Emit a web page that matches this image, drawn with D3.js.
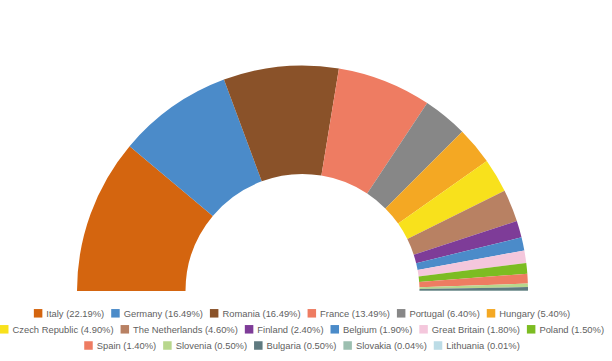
<!DOCTYPE html>
<html><head><meta charset="utf-8">
<script src="https://cdn.jsdelivr.net/npm/d3@7"></script>
<style>html,body{margin:0;padding:0;background:#fff;}svg{display:block;}</style>
</head><body>
<svg id="c" width="612" height="361"></svg>
<script>
const categories = ["Italy","Germany","Romania","France","Portugal","Hungary","Czech Republic","The Netherlands","Finland","Belgium","Great Britain","Poland","Spain","Slovenia","Bulgaria","Slovakia","Lithuania"];
const values = [22.19,16.49,16.49,13.49,6.40,5.40,4.90,4.60,2.40,1.90,1.80,1.50,1.40,0.50,0.50,0.04,0.01];
const labels = ["22.19%","16.49%","16.49%","13.49%","6.40%","5.40%","4.90%","4.60%","2.40%","1.90%","1.80%","1.50%","1.40%","0.50%","0.50%","0.04%","0.01%"];
const colors = ["#d4650f","#4b8bc9","#8a5229","#ee7c62","#878787","#f4a823","#f8e11c","#b88163","#7e3c98","#4b8bc9","#f4c7dc","#7cbc22","#ee7c62","#b8d78d","#5f7a80","#9cbfb0","#bcdce6"];
const legendRows = [[0,1,2,3,4,5],[6,7,8,9,10,11],[12,13,14,15,16]];

const svg = d3.select("#c");
const cx = 302.5, cy = 291, rOuter = 225.5, rInner = 117;
const data = categories.map((c,i)=>({name:c,value:values[i],label:labels[i],color:colors[i]}));
const pie = d3.pie().value(d=>d.value).sort(null).startAngle(-Math.PI/2).endAngle(Math.PI/2);
const arc = d3.arc().innerRadius(rInner).outerRadius(rOuter);
svg.append("g").attr("transform",`translate(${cx},${cy})`)
  .selectAll("path").data(pie(data)).join("path")
  .attr("d",arc).attr("fill",d=>d.data.color);

const fs = 9.4, sw = 8.5, swGap = 4, itemGap = 7;
const rowY = [313.3, 329.3, 345.5];
const lg = svg.append("g").attr("font-family","'Liberation Sans', Arial, sans-serif").attr("font-size",fs).attr("fill","#5f5f5f");
legendRows.forEach((row,ri)=>{
  const g = lg.append("g");
  let x = 0;
  row.forEach((idx,k)=>{
    const d = data[idx];
    g.append("rect").attr("x",x).attr("y",rowY[ri]-sw/2).attr("width",sw).attr("height",sw).attr("fill",d.color);
    const t = g.append("text").attr("x",x+sw+swGap).attr("y",rowY[ri]).attr("dy","0.35em").text(`${d.name} (${d.label})`);
    x += sw + swGap + t.node().getComputedTextLength() + (k<row.length-1?itemGap:0);
  });
  g.attr("transform",`translate(${302 - x/2},0)`);
});
</script>
</body></html>
